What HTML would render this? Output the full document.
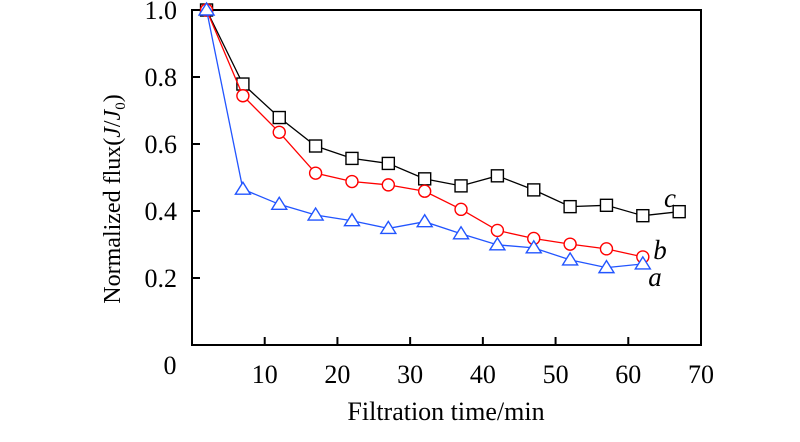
<!DOCTYPE html>
<html><head><meta charset="utf-8"><style>
body{margin:0;background:#fff;}
svg{display:block;font-family:"Liberation Serif",serif;}
</style></head><body>
<svg id="chart" width="800" height="442">
<rect x="192" y="10" width="509" height="335" fill="none" stroke="#000" stroke-width="2"/>
<g id="ticks"></g><g id="series"></g>
<text x="170" y="374" font-size="26" text-anchor="middle">0</text>
<text x="446" y="420" font-size="26" text-anchor="middle">Filtration time/min</text>
<text transform="translate(120,199) rotate(-90)" font-size="24" text-anchor="middle">Normalized flux(<tspan font-style="italic">J</tspan>/<tspan font-style="italic">J</tspan><tspan font-size="15" dy="5">0</tspan><tspan dy="-5">)</tspan></text>
<text x="670" y="207" font-size="27" font-style="italic" text-anchor="middle">c</text>
<text x="660" y="259" font-size="27" font-style="italic" text-anchor="middle">b</text>
<text x="655" y="286" font-size="27" font-style="italic" text-anchor="middle">a</text>
</svg>
<script>
const timesC=[2,7,12,17,22,27,32,37,42,47,52,57,62,67];
const timesAB=[2,7,12,17,22,27,32,37,42,47,52,57,62];
const seriesC=[1.0,0.779,0.679,0.594,0.557,0.542,0.496,0.475,0.505,0.463,0.413,0.417,0.386,0.398];
const seriesB=[1.0,0.744,0.635,0.513,0.488,0.478,0.459,0.405,0.342,0.318,0.301,0.287,0.263];
const seriesA=[1.0,0.465,0.42,0.388,0.371,0.348,0.368,0.332,0.299,0.29,0.254,0.231,0.242];
const xTicks=[10,20,30,40,50,60,70];
const yTicks=[0.2,0.4,0.6,0.8,1.0];
const yTickLabels=["0.2","0.4","0.6","0.8","1.0"];
const NS="http://www.w3.org/2000/svg";
const X=v=>192+v*(509/70), Y=v=>345-v*335;
function mk(tag,attrs,parent){const e=document.createElementNS(NS,tag);for(const k in attrs)e.setAttribute(k,attrs[k]);parent.appendChild(e);return e;}
const tg=document.getElementById('ticks');
xTicks.forEach(t=>{
 if(t<70){const l=mk('line',{x1:X(t),x2:X(t),y1:345,y2:337,stroke:'#000','stroke-width':2},tg);
 
 }
 const tx=mk('text',{x:X(t),y:383,'font-size':26,'text-anchor':'middle'},tg);tx.textContent=t;
 
 
});
yTicks.forEach((t,i)=>{
 if(t<1){const l=mk('line',{x1:192,x2:200,y1:Y(t),y2:Y(t),stroke:'#000','stroke-width':2},tg);
 
 }
 const tx=mk('text',{x:177,y:Y(t)+9,'font-size':26,'text-anchor':'end'},tg);tx.textContent=yTickLabels[i];
 
 
});
const sg=document.getElementById('series');
function draw(xs,ys,color,shape,name){
 const g=mk('g',{},sg);
 
 
 mk('polyline',{points:xs.map((x,i)=>X(x)+','+Y(ys[i])).join(' '),fill:'none',stroke:color,'stroke-width':1.3},g);
 xs.forEach((x,i)=>{const cx=X(x),cy=Y(ys[i]);let m;
  if(shape==='sq')m=mk('rect',{x:cx-6,y:cy-6,width:12,height:12,fill:'#fff',stroke:color,'stroke-width':1.4},g);
  else if(shape==='ci')m=mk('circle',{cx:cx,cy:cy,r:6,fill:'#fff',stroke:color,'stroke-width':1.4},g);
  else m=mk('polygon',{points:`${cx},${cy-7} ${cx-7.5},${cy+5} ${cx+7.5},${cy+5}`,fill:'#fff',stroke:color,'stroke-width':1.4},g);
  
  
 });
}
draw(timesC,seriesC,'#000','sq','series-c');
draw(timesAB,seriesB,'#f00','ci','series-b');
draw(timesAB,seriesA,'#2255ff','tr','series-a');
</script>
</body></html>
